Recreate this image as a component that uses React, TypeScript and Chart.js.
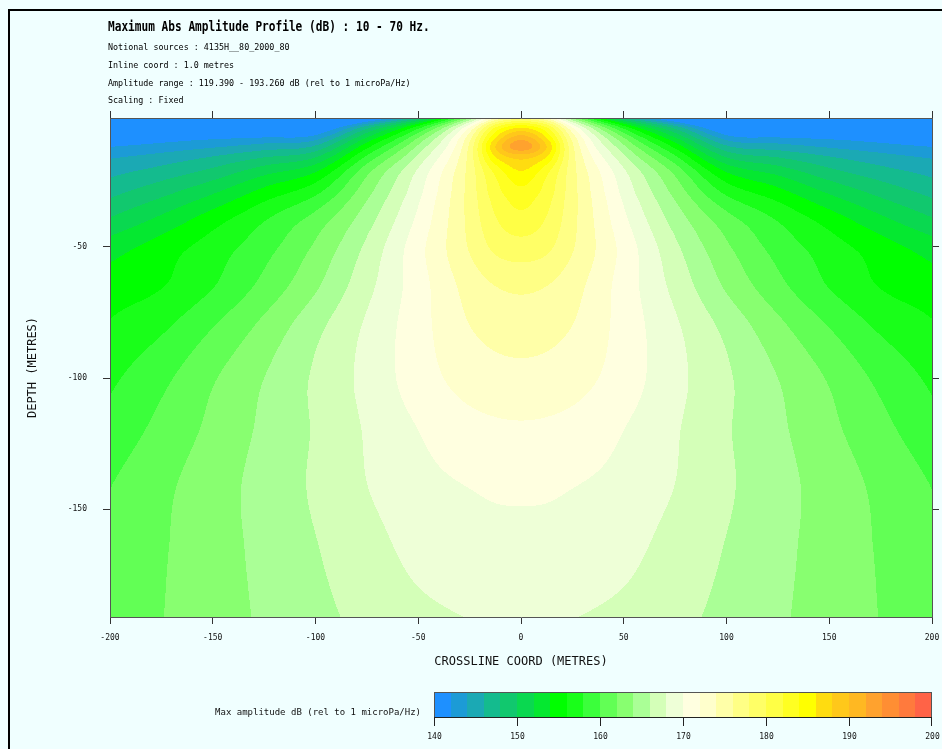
import React, { useEffect, useRef } from 'react';
import { Chart, registerables } from 'chart.js';

Chart.register(...registerables);

// ---------------- data ----------------
const CROSSLINE_M = [-200, -175, -150, -125, -100, -75, -50, -25, -12.5, 0, 12.5, 25, 50, 75, 100, 125, 150, 175, 200];
const DEPTH_M = [-1, -4, -8, -12, -16, -20, -30, -40, -50, -65, -80, -100, -120, -140, -165, -191];

// max abs amplitude (dB) on each depth row, one value per crossline coordinate
const AMP_D1 = [121, 122, 123, 125, 130, 138, 148, 164, 174, 177, 174, 164, 148, 138, 130, 125, 123, 122, 121];
const AMP_D4 = [133, 134, 135, 136.5, 137.5, 146, 156, 171, 181, 184.5, 181, 171, 156, 146, 137.5, 136.5, 135, 134, 133];
const AMP_D8 = [139.5, 140.2, 141, 141.6, 142.5, 151.5, 161.5, 175, 185.5, 190.5, 185.5, 175, 161.5, 151.5, 142.5, 141.6, 141, 140.2, 139.5];
const AMP_D12 = [142.0, 142.8, 143.8, 145, 146.5, 155.5, 164.5, 176.5, 188.0, 193.2, 188.0, 176.5, 164.5, 155.5, 146.5, 145, 143.8, 142.8, 142.0];
const AMP_D16 = [143.8, 144.8, 146.2, 148, 150, 158.5, 166.5, 176.8, 185.8, 188.6, 185.8, 176.8, 166.5, 158.5, 150, 148, 146.2, 144.8, 143.8];
const AMP_D20 = [145, 146.3, 148, 150.5, 153, 160.8, 168, 176.8, 183.2, 186.5, 183.2, 176.8, 168, 160.8, 153, 150.5, 148, 146.3, 145];
const AMP_D30 = [147.6, 149.6, 152.0, 155, 157.8, 163.5, 169.5, 176.8, 181.0, 183.2, 181.0, 176.8, 169.5, 163.5, 157.8, 155, 152.0, 149.6, 147.6];
const AMP_D40 = [150.3, 152.6, 155.2, 157.9, 160.9, 165.2, 170.5, 176.6, 179.8, 181.3, 179.8, 176.6, 170.5, 165.2, 160.9, 157.9, 155.2, 152.6, 150.3];
const AMP_D50 = [153.0, 154.9, 156.9, 159.2, 162.3, 166.4, 171.3, 176.2, 178.5, 179.2, 178.5, 176.2, 171.3, 166.4, 162.3, 159.2, 156.9, 154.9, 153.0];
const AMP_D65 = [154.9, 155.9, 157.9, 160.6, 163.7, 167.4, 171.1, 174.8, 176.0, 176.4, 176.0, 174.8, 171.1, 167.4, 163.7, 160.6, 157.9, 155.9, 154.9];
const AMP_D80 = [156.2, 157.6, 159.9, 162.5, 165.4, 168.3, 171.2, 174.0, 174.75, 175.0, 174.75, 174.0, 171.2, 168.3, 165.4, 162.5, 159.9, 157.6, 156.2];
const AMP_D100 = [157.6, 159.5, 161.8, 164.0, 166.3, 168.6, 171.0, 172.8, 173.25, 173.4, 173.25, 172.8, 171.0, 168.6, 166.3, 164.0, 161.8, 159.5, 157.6];
const AMP_D120 = [158.75, 160.6, 162.5, 164.4, 166.2, 168.2, 170.0, 171.3, 171.6, 171.7, 171.6, 171.3, 170.0, 168.2, 166.2, 164.4, 162.5, 160.6, 158.75];
const AMP_D140 = [159.9, 161.5, 163.1, 164.7, 166.3, 168.0, 169.4, 170.1, 170.35, 170.4, 170.35, 170.1, 169.4, 168.0, 166.3, 164.7, 163.1, 161.5, 159.9];
const AMP_D165 = [160.5, 161.8, 163.2, 164.5, 165.9, 167.2, 168.6, 169.2, 169.35, 169.4, 169.35, 169.2, 168.6, 167.2, 165.9, 164.5, 163.2, 161.8, 160.5];
const AMP_D191 = [160.9, 161.95, 163.1, 164.3, 165.5, 166.5, 167.5, 168.05, 168.25, 168.3, 168.25, 168.05, 167.5, 166.5, 165.5, 164.3, 163.1, 161.95, 160.9];

const AMPLITUDE_ROWS = [
  AMP_D1, AMP_D4, AMP_D8, AMP_D12, AMP_D16, AMP_D20, AMP_D30, AMP_D40,
  AMP_D50, AMP_D65, AMP_D80, AMP_D100, AMP_D120, AMP_D140, AMP_D165, AMP_D191,
];

// contour bands: 140 .. 200 dB, 2 dB each
const BAND_MIN = 140;
const BAND_STEP = 2;
const BAND_COLORS = [
  '#1E90FF', '#1C9BD6', '#1BA9B4', '#14BB8E', '#11C86E', '#0AD850', '#05E830', '#00FF00',
  '#19FF19', '#3BFF3B', '#62FF55', '#88FF70', '#AAFF96', '#D4FFB8', '#EEFFD7', '#FFFFE0',
  '#FFFFCC', '#FFFFA8', '#FFFF85', '#FFFF66', '#FFFF45', '#FFFF22', '#FFFF00', '#FFDC10',
  '#FFC81A', '#FFB822', '#FFA22E', '#FF8E33', '#FF7A3D', '#FF6347',
];

const X_TICKS = [-200, -150, -100, -50, 0, 50, 100, 150, 200];
const Y_TICKS = [-150, -100, -50];
const COLORBAR_TICKS = [140, 150, 160, 170, 180, 190, 200];

const TITLE = 'Maximum Abs Amplitude Profile (dB) : 10 - 70 Hz.';
const SUBTITLE_LINES = [
  'Notional sources : 4135H__80_2000_80',
  'Inline coord : 1.0 metres',
  'Amplitude range : 119.390 - 193.260 dB (rel to 1 microPa/Hz)',
  'Scaling : Fixed',
];
const X_TITLE = 'CROSSLINE COORD (METRES)';
const Y_TITLE = 'DEPTH (METRES)';
const COLORBAR_TITLE = 'Max amplitude dB (rel to 1 microPa/Hz)';

// ---------------- helpers ----------------
const MONO = '"DejaVu Sans Mono", "Liberation Mono", monospace';

function parseHex(h: string): [number, number, number] {
  const n = parseInt(h.slice(1), 16);
  return [(n >> 16) & 255, (n >> 8) & 255, n & 255];
}
const BAND_RGB = BAND_COLORS.map(parseHex);

function locate(arr: number[], v: number): { i: number; t: number } {
  const n = arr.length;
  const asc = arr[n - 1] > arr[0];
  if (asc ? v <= arr[0] : v >= arr[0]) return { i: 0, t: 0 };
  if (asc ? v >= arr[n - 1] : v <= arr[n - 1]) return { i: n - 2, t: 1 };
  let i = 0;
  for (; i < n - 2; i++) {
    if ((v - arr[i]) * (v - arr[i + 1]) <= 0) break;
  }
  let t = (v - arr[i]) / (arr[i + 1] - arr[i]);
  t = Math.max(0, Math.min(1, t));
  return { i, t };
}

// slopes for a smooth (cubic Hermite) curve through the grid values
function slopes(xk: number[], yk: number[]): number[] {
  const n = xk.length;
  const m = new Array(n);
  for (let k = 0; k < n; k++) {
    if (k === 0) m[k] = (yk[1] - yk[0]) / (xk[1] - xk[0]);
    else if (k === n - 1) m[k] = (yk[n - 1] - yk[n - 2]) / (xk[n - 1] - xk[n - 2]);
    else {
      const h0 = xk[k] - xk[k - 1];
      const h1 = xk[k + 1] - xk[k];
      const d0 = (yk[k] - yk[k - 1]) / h0;
      const d1 = (yk[k + 1] - yk[k]) / h1;
      m[k] = (d0 * h1 + d1 * h0) / (h0 + h1);
    }
  }
  return m;
}

function hermite(xk: number[], yk: number[], m: number[], i: number, t: number): number {
  const h = xk[i + 1] - xk[i];
  const t2 = t * t;
  const t3 = t2 * t;
  return (2 * t3 - 3 * t2 + 1) * yk[i] + (t3 - 2 * t2 + t) * h * m[i] + (-2 * t3 + 3 * t2) * yk[i + 1] + (t3 - t2) * h * m[i + 1];
}

const contourPlugin = {
  id: 'amplitudeContours',
  beforeDraw(chart: any) {
    const { ctx, chartArea, scales } = chart;
    const xs = scales.x;
    const ys = scales.y;
    const left = Math.round(chartArea.left);
    const top = Math.round(chartArea.top);
    const w = Math.round(chartArea.right) - left;
    const h = Math.round(chartArea.bottom) - top;
    if (w <= 0 || h <= 0) return;
    const img = ctx.createImageData(w, h);
    const nCol = CROSSLINE_M.length;
    const colVals: number[][] = [];
    const colSlopes: number[][] = [];
    for (let c = 0; c < nCol; c++) {
      const vals = AMPLITUDE_ROWS.map((row) => row[c]);
      colVals.push(vals);
      colSlopes.push(slopes(DEPTH_M, vals));
    }
    const cols = [] as { i: number; t: number }[];
    for (let px = 0; px < w; px++) cols.push(locate(CROSSLINE_M, xs.getValueForPixel(left + px + 0.5)));
    for (let py = 0; py < h; py++) {
      const r = locate(DEPTH_M, ys.getValueForPixel(top + py + 0.5));
      const rowVals = colVals.map((vals, c) => hermite(DEPTH_M, vals, colSlopes[c], r.i, r.t));
      const rowSlopes = slopes(CROSSLINE_M, rowVals);
      for (let px = 0; px < w; px++) {
        const c = cols[px];
        const v = hermite(CROSSLINE_M, rowVals, rowSlopes, c.i, c.t);
        let k = Math.floor((v - BAND_MIN) / BAND_STEP);
        if (k < 0) k = 0;
        if (k > BAND_RGB.length - 1) k = BAND_RGB.length - 1;
        const rgb = BAND_RGB[k];
        const o = (py * w + px) * 4;
        img.data[o] = rgb[0];
        img.data[o + 1] = rgb[1];
        img.data[o + 2] = rgb[2];
        img.data[o + 3] = 255;
      }
    }
    ctx.putImageData(img, left, top);
  },
};

const decorPlugin = {
  id: 'decor',
  afterDraw(chart: any) {
    const ctx = chart.ctx as CanvasRenderingContext2D;
    ctx.save();
    // page frame (top and left edges)
    ctx.fillStyle = '#000';
    ctx.fillRect(8, 9, 934, 2);
    ctx.fillRect(8, 9, 2, 740);

    ctx.textBaseline = 'middle';
    ctx.textAlign = 'left';

    // title
    ctx.save();
    ctx.font = `bold 14px ${MONO}`;
    ctx.translate(108, 27);
    ctx.scale(0.795, 1);
    ctx.fillText(TITLE, 0, 0);
    ctx.restore();

    // sub lines
    ctx.font = `8.4px ${MONO}`;
    const lineY = [48, 66, 84, 101];
    SUBTITLE_LINES.forEach((s, k) => ctx.fillText(s, 108, lineY[k]));

    // colour bar
    const cbL = 434;
    const cbR = 932;
    const cbT = 692;
    const cbB = 717;
    const n = BAND_COLORS.length;
    const bandMax = BAND_MIN + n * BAND_STEP;
    const toX = (v: number) => cbL + ((v - BAND_MIN) / (bandMax - BAND_MIN)) * (cbR - cbL);
    for (let k = 0; k < n; k++) {
      const x0 = Math.round(toX(BAND_MIN + k * BAND_STEP));
      const x1 = Math.round(toX(BAND_MIN + (k + 1) * BAND_STEP));
      ctx.fillStyle = BAND_COLORS[k];
      ctx.fillRect(x0, cbT, x1 - x0, cbB - cbT);
    }
    ctx.strokeStyle = '#555';
    ctx.lineWidth = 1;
    ctx.strokeRect(cbL + 0.5, cbT + 0.5, cbR - cbL - 1, cbB - cbT);
    ctx.strokeStyle = '#222';
    ctx.beginPath();
    ctx.moveTo(cbL, cbB + 0.5);
    ctx.lineTo(cbR, cbB + 0.5);
    ctx.stroke();
    ctx.fillStyle = '#111';
    ctx.font = `8px ${MONO}`;
    ctx.textAlign = 'center';
    COLORBAR_TICKS.forEach((v) => {
      const x = Math.round(toX(v)) + 0.5;
      ctx.beginPath();
      ctx.moveTo(Math.min(x, cbR - 0.5), cbB);
      ctx.lineTo(Math.min(x, cbR - 0.5), cbB + 9);
      ctx.stroke();
      ctx.fillText(String(v), x, 737);
    });
    ctx.textAlign = 'right';
    ctx.font = `9px ${MONO}`;
    ctx.fillText(COLORBAR_TITLE, 421, 713);
    ctx.restore();
  },
};

const tickFont = { family: MONO, size: 8 };
const gridOpts = { drawOnChartArea: false, drawTicks: true, tickLength: 7, color: '#333', tickColor: '#333', lineWidth: 1 };
const borderOpts = { display: true, color: '#555', width: 1 };
const noPad = (s: any) => { s.paddingLeft = 0; s.paddingRight = 0; s.paddingTop = 0; s.paddingBottom = 0; };

export default function App() {
  const canvasRef = useRef<HTMLCanvasElement>(null);

  useEffect(() => {
    const canvas = canvasRef.current;
    if (!canvas) return;
    const chart = new Chart(canvas, {
      type: 'scatter',
      data: { datasets: [{ data: [], pointRadius: 0 }] },
      options: {
        animation: false,
        responsive: false,
        devicePixelRatio: 1,
        events: [],
        layout: { padding: { left: 0, right: 3, top: 111, bottom: 72 } },
        plugins: { legend: { display: false }, tooltip: { enabled: false }, title: { display: false } },
        scales: {
          x: {
            type: 'linear',
            position: 'bottom',
            min: -200,
            max: 200,
            afterBuildTicks: (s: any) => { s.ticks = X_TICKS.map((value) => ({ value })); },
            afterFit: (s: any) => { s.height = 60; noPad(s); },
            ticks: { font: tickFont, color: '#111', padding: 9, maxRotation: 0, autoSkip: false, callback: (v: any) => String(v) },
            grid: gridOpts,
            border: borderOpts,
            title: { display: true, text: X_TITLE, font: { family: MONO, size: 12 }, color: '#111', padding: { top: 0, bottom: 8 } },
          },
          x2: {
            type: 'linear',
            position: 'top',
            min: -200,
            max: 200,
            afterBuildTicks: (s: any) => { s.ticks = X_TICKS.map((value) => ({ value })); },
            afterFit: (s: any) => { s.height = 7; noPad(s); },
            ticks: { display: false },
            grid: gridOpts,
            border: borderOpts,
          },
          y: {
            type: 'linear',
            position: 'left',
            min: -191,
            max: -1,
            afterBuildTicks: (s: any) => { s.ticks = Y_TICKS.map((value) => ({ value })); },
            afterFit: (s: any) => { s.width = 110; noPad(s); },
            ticks: { font: tickFont, color: '#111', padding: 16, autoSkip: false, callback: (v: any) => String(v) },
            grid: gridOpts,
            border: borderOpts,
            title: { display: true, text: Y_TITLE, font: { family: MONO, size: 12 }, color: '#111', padding: { top: 26, bottom: 0 } },
          },
          y2: {
            type: 'linear',
            position: 'right',
            min: -191,
            max: -1,
            afterBuildTicks: (s: any) => { s.ticks = Y_TICKS.map((value) => ({ value })); },
            afterFit: (s: any) => { s.width = 7; noPad(s); },
            ticks: { display: false },
            grid: gridOpts,
            border: borderOpts,
          },
        },
      } as any,
      plugins: [contourPlugin, decorPlugin],
    });
    return () => chart.destroy();
  }, []);

  return (
    <div style={{ position: 'fixed', left: 0, top: 0, width: 942, height: 749, background: '#F0FFFF', overflow: 'hidden' }}>
      <canvas ref={canvasRef} width={942} height={749} style={{ position: 'absolute', left: 0, top: 0, width: 942, height: 749 }} />
    </div>
  );
}
